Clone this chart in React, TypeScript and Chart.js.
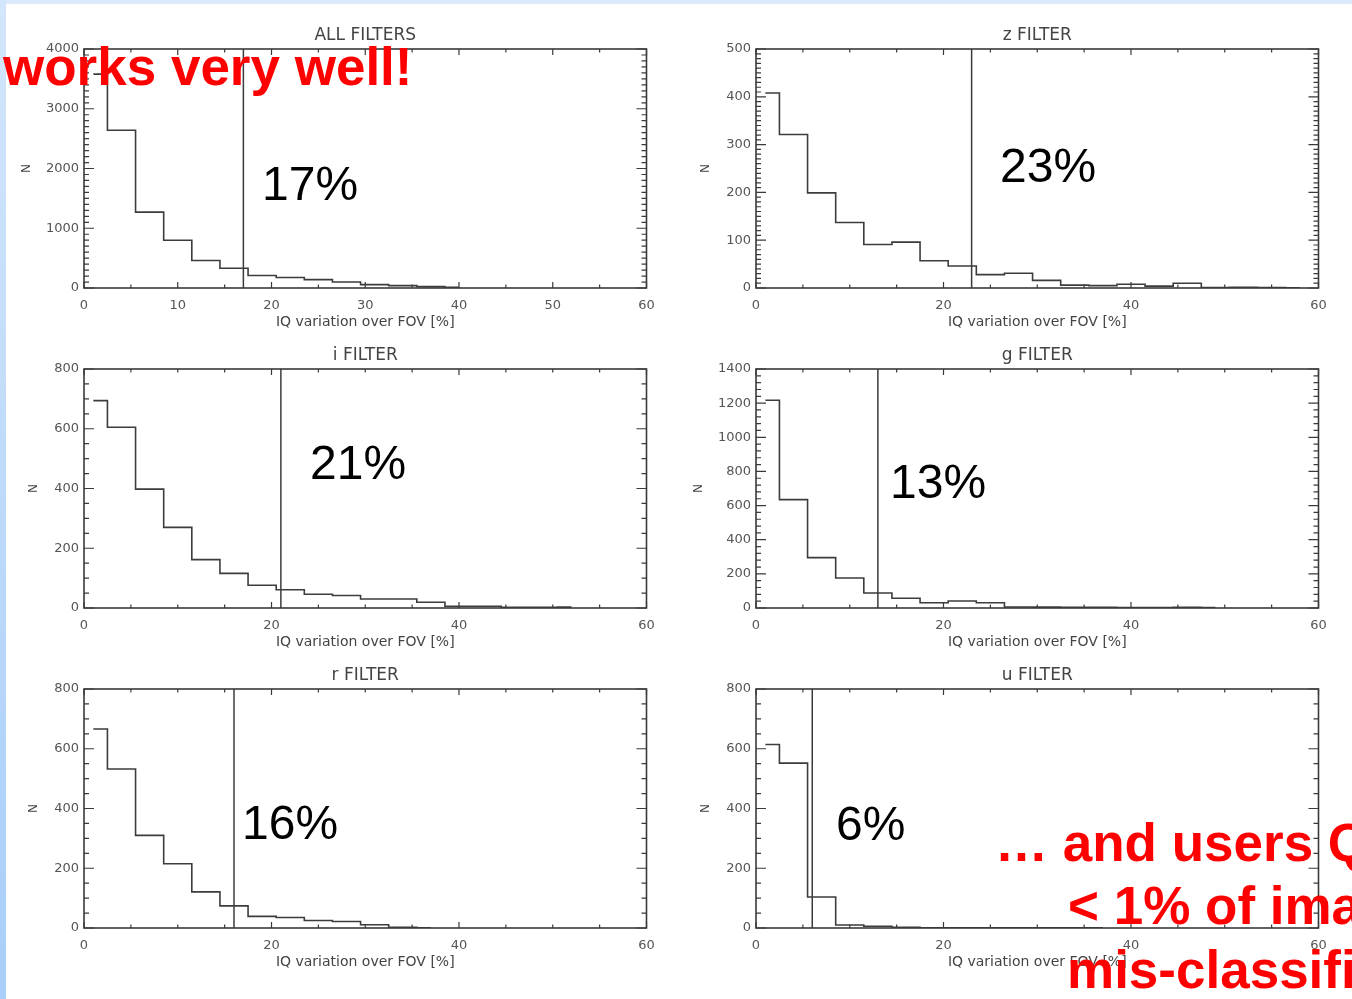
import React, { useEffect, useRef } from 'react';
import { Chart, registerables } from 'chart.js';

Chart.register(...registerables);

// ---------------- data ----------------
const binCenters = [1, 4, 7, 10, 13, 16, 19, 22, 25, 28, 31, 34, 37, 40, 43, 46, 49, 52, 55, 58];

const allFiltersCounts = [3580, 2640, 1270, 800, 460, 330, 210, 175, 140, 100, 56, 39, 23, 10];
const zFilterCounts = [408, 321, 199, 137, 91, 96, 57, 46, 28, 31, 16, 6, 5, 8, 4, 10, 1, 1.5, 1, 0.5];
const iFilterCounts = [694, 605, 398, 270, 162, 116, 76, 61, 46, 42, 30, 30, 19, 6, 6, 2, 2, 3];
const gFilterCounts = [1217, 635, 295, 176, 88, 57, 31, 41, 31, 6, 5, 4, 4, 3, 3, 4, 3];
const rFilterCounts = [666, 532, 310, 215, 121, 74, 39, 35, 25, 22, 11, 2, 1];
const uFilterCounts = [614, 552, 104, 10, 6, 2, 1, 1, 1, 1, 1, 1, 1];

const panelSeries = [allFiltersCounts, zFilterCounts, iFilterCounts, gFilterCounts, rFilterCounts, uFilterCounts];
const panelTitles = ['ALL FILTERS', 'z FILTER', 'i FILTER', 'g FILTER', 'r FILTER', 'u FILTER'];
const thresholds = [17, 23, 21, 13, 16, 6];
const percentLabels = ['17%', '23%', '21%', '13%', '16%', '6%'];

const xMin = 0;
const xMax = 60;
const xTickStep = [10, 20, 20, 20, 20, 20];
const xMinorStep = 5;
const yMax = [4000, 500, 800, 1400, 800, 800];
const yTickStep = [1000, 100, 200, 200, 200, 200];
const yMinorStep = [100, 10, 50, 40, 50, 50];

const xAxisTitle = 'IQ variation over FOV [%]';
const yAxisTitle = 'N';

const redLines = ['works very well!', '\u2026 and users Q', '< 1% of ima', 'mis-classifi'];

// ---------------- layout / style ----------------
const CANVAS_W = 672;
const CANVAS_H = 340;
const ROW_H = 320;
const Y_AXIS_W = 84;
const RIGHT_PAD = 25.5;
const X_AXIS_H = 52;
const nTitleCenter = [27, 34, 34, 27, 34, 34];
const percentPos = [
  { left: 262, top: 160 },
  { left: 1000, top: 142 },
  { left: 310, top: 439 },
  { left: 890, top: 458 },
  { left: 242, top: 799 },
  { left: 836, top: 800 },
];
const redPos = [
  { left: 3, top: 41 },
  { left: 995, top: 817 },
  { left: 1068, top: 880 },
  { left: 1067, top: 944 },
];

const LINE = '#3c3c3c';
const AXIS = '#3a3a3a';
const LABEL = '#555';
const FONT = "'DejaVu Sans', sans-serif";

const boxTicks = {
  id: 'boxTicks',
  afterDatasetsDraw(chart: any, _args: any, opts: any) {
    const { ctx, chartArea: a, scales } = chart;
    const x = scales.x;
    const y = scales.y;
    ctx.save();
    ctx.strokeStyle = AXIS;
    ctx.lineWidth = 1.6;
    ctx.strokeRect(a.left, a.top, a.right - a.left, a.bottom - a.top);
    ctx.lineWidth = 1.2;
    const near = (v: number, s: number) => Math.abs(v / s - Math.round(v / s)) < 1e-6;
    ctx.beginPath();
    for (let v = x.min; v <= x.max + 1e-9; v += opts.xMinor) {
      const px = x.getPixelForValue(v);
      const len = near(v, opts.xMajor) ? 6 : 3.5;
      ctx.moveTo(px, a.bottom);
      ctx.lineTo(px, a.bottom - len);
      ctx.moveTo(px, a.top);
      ctx.lineTo(px, a.top + len);
    }
    for (let v = y.min; v <= y.max + 1e-9; v += opts.yMinor) {
      const py = y.getPixelForValue(v);
      const len = near(v, opts.yMajor) ? 10 : 5;
      ctx.moveTo(a.left, py);
      ctx.lineTo(a.left + len, py);
      ctx.moveTo(a.right, py);
      ctx.lineTo(a.right - len, py);
    }
    ctx.stroke();
    ctx.restore();
  },
};

const plainTick = (v: any) => String(v);

function Panel({ idx }: { idx: number }) {
  const ref = useRef<HTMLCanvasElement>(null);
  const col = idx % 2;
  const row = Math.floor(idx / 2);
  useEffect(() => {
    const counts = panelSeries[idx];
    const hist = counts.map((c, i) => ({ x: binCenters[i], y: c }));
    const vline = [
      { x: thresholds[idx], y: 0 },
      { x: thresholds[idx], y: yMax[idx] },
    ];
    const chart = new Chart(ref.current as HTMLCanvasElement, {
      type: 'line',
      data: {
        datasets: [
          { data: hist, stepped: 'middle', borderColor: LINE, borderWidth: 1.6, pointRadius: 0, fill: false },
          { data: vline, borderColor: LINE, borderWidth: 1.5, pointRadius: 0, fill: false },
        ],
      },
      options: {
        animation: false,
        responsive: false,
        events: [],
        layout: { padding: { left: 0, right: RIGHT_PAD, top: 0, bottom: 0 } },
        plugins: {
          legend: { display: false },
          tooltip: { enabled: false },
          title: {
            display: true,
            text: panelTitles[idx],
            fullSize: false,
            color: '#444',
            font: { family: FONT, size: 17, weight: 'normal', lineHeight: 1 },
            padding: { top: 27, bottom: 5 },
          },
          boxTicks: {
            xMajor: xTickStep[idx],
            xMinor: xMinorStep,
            yMajor: yTickStep[idx],
            yMinor: yMinorStep[idx],
          },
        } as any,
        scales: {
          x: {
            type: 'linear',
            min: xMin,
            max: xMax,
            grid: { display: false, drawTicks: false },
            border: { display: false },
            ticks: {
              stepSize: xTickStep[idx],
              color: LABEL,
              font: { family: FONT, size: 13 },
              padding: 10,
              maxRotation: 0,
              autoSkip: false,
              callback: plainTick,
            },
            title: {
              display: true,
              text: xAxisTitle,
              color: '#444',
              font: { family: FONT, size: 14, lineHeight: 1 },
              padding: { top: 0, bottom: 11 },
            },
            afterFit: (s: any) => {
              s.height = X_AXIS_H;
            },
          },
          y: {
            type: 'linear',
            min: 0,
            max: yMax[idx],
            grid: { display: false, drawTicks: false },
            border: { display: false },
            ticks: {
              stepSize: yTickStep[idx],
              color: LABEL,
              font: { family: FONT, size: 13 },
              padding: 5,
              autoSkip: false,
              callback: plainTick,
            },
            title: {
              display: true,
              text: yAxisTitle,
              color: '#444',
              font: { family: FONT, size: 12, lineHeight: 1 },
              padding: { top: nTitleCenter[idx] - 6, bottom: 0 },
            },
            afterFit: (s: any) => {
              s.width = Y_AXIS_W;
            },
          },
        } as any,
      },
      plugins: [boxTicks],
    } as any);
    return () => chart.destroy();
  }, [idx]);
  return (
    <canvas
      ref={ref}
      width={CANVAS_W}
      height={CANVAS_H}
      style={{ position: 'absolute', left: col * CANVAS_W, top: row * ROW_H, width: CANVAS_W, height: CANVAS_H }}
    />
  );
}

export default function App() {
  return (
    <div
      style={{
        position: 'fixed',
        left: 0,
        top: 0,
        width: 1352,
        height: 999,
        overflow: 'hidden',
        background: '#ffffff',
        fontFamily: FONT,
      }}
    >
      <div style={{ position: 'absolute', left: 0, top: 0, width: 1352, height: 4, background: '#dcebfc' }} />
      <div
        style={{
          position: 'absolute',
          left: 0,
          top: 0,
          width: 6,
          height: 999,
          background: 'linear-gradient(to bottom, #d3e6fb, #a8cef9)',
        }}
      />
      {panelTitles.map((_, i) => (
        <Panel key={i} idx={i} />
      ))}
      {percentLabels.map((t, i) => (
        <div
          key={'p' + i}
          style={{
            position: 'absolute',
            left: percentPos[i].left,
            top: percentPos[i].top,
            fontFamily: "'Liberation Sans', Arial, sans-serif",
            fontSize: 48,
            lineHeight: '48px',
            color: '#000',
            whiteSpace: 'nowrap',
          }}
        >
          {t}
        </div>
      ))}
      {redLines.map((t, i) => (
        <div
          key={'r' + i}
          style={{
            position: 'absolute',
            left: redPos[i].left,
            top: redPos[i].top,
            fontFamily: "'Liberation Sans', Arial, sans-serif",
            fontWeight: 'bold',
            fontSize: 53,
            lineHeight: '52px',
            color: '#ff0000',
            whiteSpace: 'nowrap',
          }}
        >
          {t}
        </div>
      ))}
    </div>
  );
}
